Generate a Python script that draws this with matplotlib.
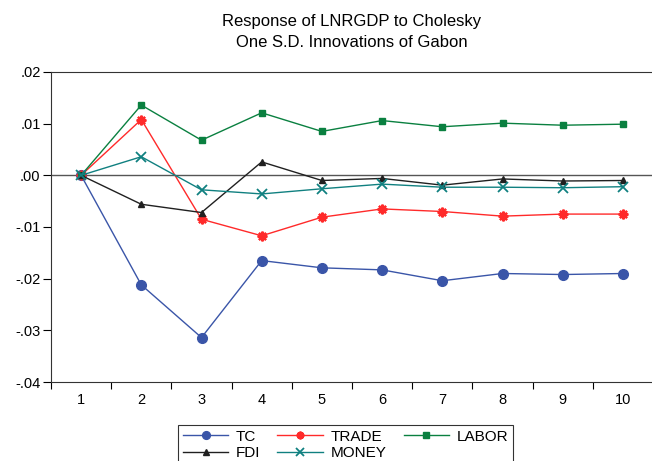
import numpy as np
import matplotlib.pyplot as plt
from matplotlib.ticker import FuncFormatter

periods = [1, 2, 3, 4, 5, 6, 7, 8, 9, 10]
tc = [0.0, -0.0212, -0.0314, -0.0165, -0.0179, -0.0183, -0.0204, -0.0190, -0.0192, -0.0190]
trade = [0.0, 0.0108, -0.0085, -0.0117, -0.0081, -0.0065, -0.0070, -0.0079, -0.0075, -0.0075]
labor = [0.0, 0.0136, 0.0068, 0.0121, 0.0085, 0.0106, 0.0094, 0.0101, 0.0097, 0.0099]
fdi = [0.0, -0.0056, -0.0072, 0.0026, -0.0010, -0.0006, -0.0019, -0.0007, -0.0011, -0.0010]
money = [0.0, 0.0036, -0.0028, -0.0036, -0.0026, -0.0017, -0.0023, -0.0023, -0.0024, -0.0022]

plt.rcParams['font.family'] = ['Liberation Sans', 'DejaVu Sans']

W, H = 652, 461
fig = plt.figure(figsize=(W / 100, H / 100), dpi=100)
ax = fig.add_axes([51 / W, 1 - 382 / H, 602 / W, 310 / H])

ax.axhline(0, color="#555555", lw=1.0, zorder=1)
l_tc, = ax.plot(periods, tc, "-o", color="#3a55a8", ms=7, lw=1, label="TC")
l_tr, = ax.plot(periods, trade, "-", marker=(8, 2, 0), color="#ff2a2a", ms=7, mew=1.6,
                lw=1, label="TRADE")
l_lab, = ax.plot(periods, labor, "-s", color="#0a8040", ms=5, lw=1, label="LABOR")
l_fdi, = ax.plot(periods, fdi, "-^", color="#202020", ms=5, lw=1, label="FDI")
l_mon, = ax.plot(periods, money, "-x", color="#108080", ms=7, mew=1.3, lw=1, label="MONEY")

ax.set_xlim(0.5, 10.5)
ax.set_ylim(-0.04, 0.02)
ax.set_yticks(np.arange(-0.04, 0.021, 0.01))

def fmt(v, pos):
    s = "%.2f" % v
    if s.startswith("-0"):
        return "-" + s[2:]
    if s.startswith("0"):
        return s[1:]
    return s
ax.yaxis.set_major_formatter(FuncFormatter(fmt))

# tick marks between periods, labels centred on each period
ax.set_xticks(np.arange(0.5, 10.6, 1))
ax.set_xticklabels([])
ax.set_xticks(periods, minor=True)
ax.set_xticklabels([str(p) for p in periods], minor=True)
ax.tick_params(axis="x", which="minor", length=0, pad=8, labelsize=10.5)
ax.tick_params(axis="x", which="major", length=5, direction="out")
ax.tick_params(axis="y", length=5.5, pad=2, direction="out", labelsize=10.5)
for sp in ax.spines.values():
    sp.set_color("#333333")

fig.text(352 / W, 1 - 26 / H, "Response of LNRGDP to Cholesky",
         ha="center", va="baseline", fontsize=12)
fig.text(352 / W, 1 - 47 / H, "One S.D. Innovations of Gabon",
         ha="center", va="baseline", fontsize=12)

handles = [l_tc, l_fdi, l_tr, l_mon, l_lab]
leg = fig.legend(handles, [h.get_label() for h in handles],
                 loc="upper left", bbox_to_anchor=(178 / W, 1 - 425 / H), ncol=3,
                 fontsize=11, frameon=True, fancybox=False, edgecolor="black",
                 handlelength=3.0, columnspacing=1.1, labelspacing=0.15,
                 borderpad=0.3, borderaxespad=0, handletextpad=0.5, markerscale=0.8)
leg.get_frame().set_linewidth(0.8)

fig.savefig("out.png", dpi=100)
